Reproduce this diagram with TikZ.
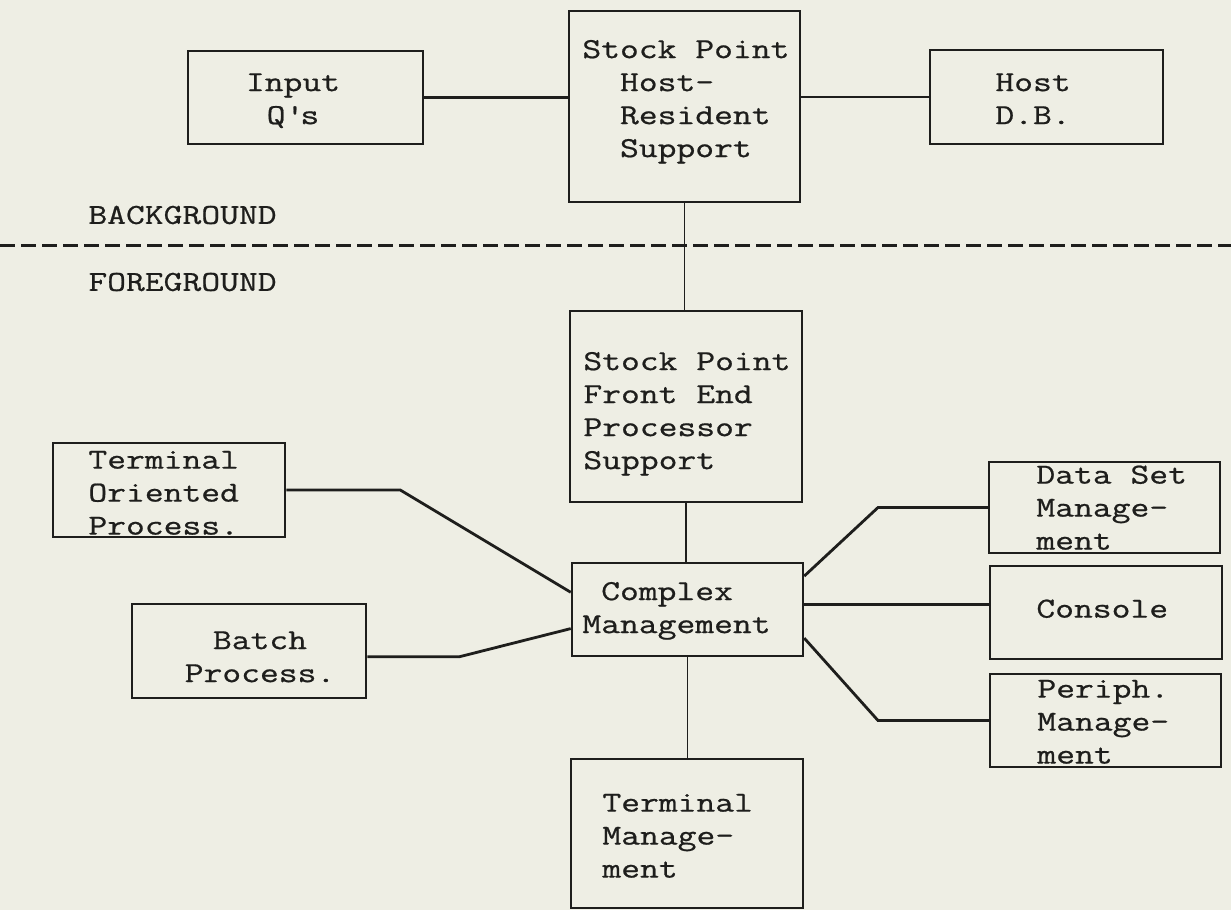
\documentclass[tikz,border=0pt]{standalone}
\usepackage{fontspec}
\setmonofont{Latin Modern Mono}[FakeStretch=1.26, FakeBold=0.7]
\usetikzlibrary{calc}
\definecolor{paper}{RGB}{238,238,228}
\definecolor{ink}{RGB}{30,30,28}

\begin{document}
\begin{tikzpicture}[x=0.5pt,y=-0.5pt,
  box/.style={draw=ink, line width=1.25pt, inner sep=0pt},
  lbl/.style={inner sep=0pt, text=ink, align=left, anchor=west,
              font=\ttfamily\fontsize{14.5}{16.5}\selectfont},
  link/.style={draw=ink, line width=1.4pt},
  vlink/.style={draw=ink, line width=0.9pt},
  divider/.style={draw=ink, line width=1.5pt, dash pattern=on 7.5pt off 3pt}]

% page
\fill[paper] (0,0) rectangle (1231,910);
\useasboundingbox (0,0) rectangle (1231,910);

% boxes
\node[box, minimum width=117.5pt, minimum height=46.5pt] (inq)    at (305.5,97.5) {};
\node[box, minimum width=115.5pt, minimum height=95.5pt] (hostres) at (684.5,106.5) {};
\node[box, minimum width=116.5pt, minimum height=47pt]   (hostdb) at (1046.5,97) {};
\node[box, minimum width=116pt,   minimum height=95.5pt] (fep)    at (686,406.5) {};
\node[box, minimum width=116pt,   minimum height=47pt]   (tproc)  at (169,490) {};
\node[box, minimum width=117pt,   minimum height=47pt]   (batch)  at (249,651) {};
\node[box, minimum width=115.5pt, minimum height=46.5pt] (cplx)   at (687.5,609.5) {};
\node[box, minimum width=115.5pt, minimum height=45.5pt] (dsm)    at (1104.5,507.5) {};
\node[box, minimum width=116pt,   minimum height=46.5pt] (cons)   at (1106,612.5) {};
\node[box, minimum width=115.5pt, minimum height=46.5pt] (periph) at (1105.5,720.5) {};
\node[box, minimum width=116pt,   minimum height=74.5pt] (tmgmt)  at (687,833.5) {};

% box texts
\node[lbl, align=center, anchor=center] (t-inq) at (293,101) {\strut Input\\Q\textquotesingle s\strut};
\node[lbl] (t-hostres) at (582,101) {\strut Stock Point\\\hphantom{xx}Host-\\\hphantom{xx}Resident\\\hphantom{xx}Support\strut};
\node[lbl] (t-hostdb) at (995,101) {\strut Host\\D.B.\strut};
\node[lbl] (t-fep) at (583,413) {\strut Stock Point\\Front End\\Processor\\Support\strut};
\node[lbl] (t-tproc) at (88,495) {\strut Terminal\\Oriented\\Process.\strut};
\node[lbl, align=center, anchor=center] (t-batch) at (260,659) {\strut Batch\\Process.\strut};
\node[lbl] (t-cplx) at (582,610) {\strut\hphantom{x}Complex\\Management\strut};
\node[lbl] (t-dsm) at (1036,510) {\strut Data Set\\Manage-\\ment\strut};
\node[lbl] (t-cons) at (1036,611) {\strut Console\strut};
\node[lbl] (t-periph) at (1037,724) {\strut Periph.\\Manage-\\ment\strut};
\node[lbl] (t-tmgmt) at (602,838) {\strut Terminal\\Manage-\\ment\strut};

% region labels and divider
\node[lbl] (t-bg) at (88,215) {BACKGROUND};
\node[lbl] (t-fg) at (88,282) {FOREGROUND};
\coordinate (divL) at (0,245);
\coordinate (divR) at (1231,245);
\draw[divider] (divL) -- (divR);

% attachment points on the Complex Management box
\coordinate (cl1) at ($(cplx.north west)!0.32!(cplx.south west)$);
\coordinate (cl2) at ($(cplx.north west)!0.70!(cplx.south west)$);
\coordinate (cr1) at ($(cplx.north east)!0.15!(cplx.south east)$);
\coordinate (cr2) at ($(cplx.north east)!0.45!(cplx.south east)$);
\coordinate (cr3) at ($(cplx.north east)!0.80!(cplx.south east)$);
\coordinate (bE)  at ($(batch.north east)!0.56!(batch.south east)$);
\coordinate (bx)  at (878,0);

% host side
\draw[link] (inq.east) -- (inq.east -| hostres.west);
\draw[link] (hostdb.west -| hostres.east) -- (hostdb.west);
\draw[vlink] (hostres.south) -- (hostres.south |- fep.north);

% front end side
\draw[vlink] (fep.south) -- (fep.south |- cplx.north);
\draw[vlink] (cplx.south) -- (cplx.south |- tmgmt.north);
\draw[link] (tproc.east) -- ++(114,0) -- (cl1);
\draw[link] (bE) -- ++(92,0) -- (cl2);
\draw[link] (cr1) -- (dsm.west -| bx) -- (dsm.west);
\draw[link] (cr2) -- (cr2 -| cons.west);
\draw[link] (cr3) -- (periph.west -| bx) -- (periph.west);
\end{tikzpicture}
\end{document}
